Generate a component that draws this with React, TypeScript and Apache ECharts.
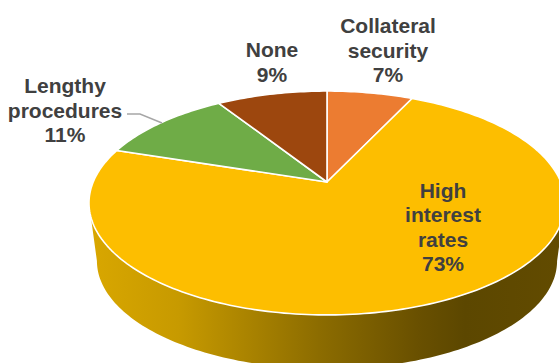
import React, { useEffect, useRef } from "react";
import * as echarts from "echarts";

// Share of respondents per constraint, clockwise from twelve o'clock.
const categories = ["Collateral\nsecurity", "High\ninterest\nrates", "Lengthy\nprocedures", "None"];
const shares = [7, 73, 11, 9];
const sliceColors = ["#EC7C31", "#FDBE00", "#6FAC47", "#9D470E"];

const WIDTH = 559;
const HEIGHT = 363;

// Perspective projection of the pie's top disc and of its (farther) base disc.
const TOP = { cx: 327, cy: 182, rx: 233.8, ry: 108, k: 0.1875 };
const BASE = { cx: 327, cy: 240.7, rx: 226, ry: 104.2, k: 0.1875 };

// Where each label block is centred, and the leader line of the third label.
const labelCentres = [
  [388, 50],
  [443, 227],
  [65, 110],
  [272, 62],
];
const leaderPoints = [
  [127, 114],
  [140, 114],
  [162, 123],
];

const total = shares.reduce((a, b) => a + b, 0);
let running = 0;
const sliceData = shares.map((share, i) => {
  const start = running;
  running += share;
  return { name: categories[i], value: [start / total, running / total, share, i] };
});

type Disc = typeof TOP;

function project(d: Disc, theta: number): number[] {
  const w = 1 + d.k * Math.cos(theta);
  return [d.cx + (d.rx * Math.sin(theta)) / w, d.cy - (d.ry * Math.cos(theta)) / w];
}

function arc(d: Disc, from: number, to: number): number[][] {
  const steps = Math.max(2, Math.ceil(Math.abs(to - from) / 0.02));
  const pts: number[][] = [];
  for (let s = 0; s <= steps; s++) pts.push(project(d, from + ((to - from) * s) / steps));
  return pts;
}

function renderSlice(_params: any, api: any) {
  const a0 = api.value(0) * Math.PI * 2;
  const a1 = api.value(1) * Math.PI * 2;
  const share = api.value(2);
  const i = api.value(3);
  const children: any[] = [];

  // The rim is only visible on the near half of the disc.
  const limit = Math.acos(-TOP.k);
  const f0 = Math.max(a0, limit);
  const f1 = Math.min(a1, Math.PI * 2 - limit);
  if (f1 > f0) {
    children.push({
      type: "polygon",
      shape: { points: [...arc(TOP, f0, f1), ...arc(BASE, f1, f0)] },
      style: {
        fill: new echarts.graphic.LinearGradient(
          89,
          0,
          559,
          0,
          [
            { offset: 0, color: "#D9A700" },
            { offset: 0.19, color: "#C79A00" },
            { offset: 0.49, color: "#8C6C00" },
            { offset: 0.7, color: "#695000" },
            { offset: 0.8, color: "#5C4700" },
            { offset: 1, color: "#624B00" },
          ],
          true,
        ),
      },
    });
  }

  children.push({
    type: "polygon",
    z2: 2,
    shape: { points: [[TOP.cx, TOP.cy], ...arc(TOP, a0, a1)] },
    style: { fill: sliceColors[i], stroke: "#FFFFFF", lineWidth: 1.6, lineJoin: "round" },
  });

  children.push({
    type: "text",
    z2: 5,
    x: labelCentres[i][0],
    y: labelCentres[i][1],
    style: {
      text: `${categories[i]}\n${share}%`,
      fill: "#404040",
      font: 'bold 21px "Liberation Sans", Arial, sans-serif',
      lineHeight: 24.5,
      align: "center",
      verticalAlign: "middle",
    },
  });

  return { type: "group", children };
}

export default function App() {
  const ref = useRef<HTMLDivElement>(null);

  useEffect(() => {
    document.body.style.margin = "0";
    const chart = echarts.init(ref.current!, undefined, { renderer: "svg" });
    chart.setOption({
      animation: false,
      backgroundColor: "#FFFFFF",
      series: [
        {
          type: "custom",
          coordinateSystem: "none",
          renderItem: renderSlice,
          data: sliceData,
          silent: true,
        },
      ],
      graphic: [
        {
          type: "polyline",
          shape: { points: leaderPoints },
          style: { stroke: "#A6A6A6", lineWidth: 1.4, fill: "none" },
          z: 10,
        },
      ],
    });
    return () => chart.dispose();
  }, []);

  return <div ref={ref} style={{ width: WIDTH, height: HEIGHT }} />;
}
